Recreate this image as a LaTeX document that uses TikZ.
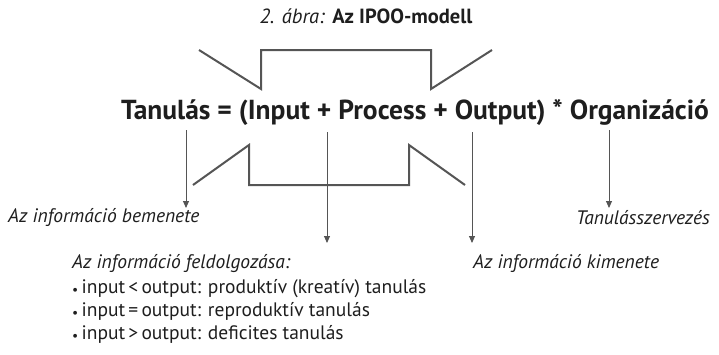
\documentclass[tikz,border=0pt]{standalone}
\usepackage{fontspec}
\setmainfont{PT Sans}
\usetikzlibrary{arrows.meta}
\definecolor{ink}{HTML}{1E1E1E}
\definecolor{linegray}{HTML}{555555}
\newcommand{\dotmark}{\raisebox{-1pt}{\scalebox{0.7}{\textbullet}}\,}
\begin{document}
\begin{tikzpicture}[x=1pt,y=-1pt,
  funnel/.style={draw=linegray,line width=2pt,line join=miter},
  pointer/.style={draw=linegray,line width=0.9pt,-{Triangle[length=7pt,width=6pt]}},
  label/.style={font=\fontsize{19.5}{22}\selectfont\itshape,text=ink,inner sep=0pt,anchor=west},
  item/.style={font=\fontsize{19.5}{22}\selectfont,text=ink,inner sep=0pt,anchor=west}]
\useasboundingbox (0,0) rectangle (719,354);

% caption
\node[font=\fontsize{20.5}{23}\selectfont,text=ink] (cap) at (366,16)
  {\textit{2. ábra:} \textbf{Az IPOO-modell}};

% upper and lower funnel outlines
\draw[funnel] (199,50) -- (261,89) -- (261,50) -- (431,50) -- (431,89) -- (492,50);
\draw[funnel] (193,185) -- (249,145) -- (249,185) -- (409,185) -- (409,145) -- (465,185);

% formula
\node[font=\fontsize{27.5}{30}\selectfont\bfseries,text=ink,inner sep=0pt] (eq) at (415,112)
  {Tanulás = (Input + Process + Output) * Organizáció};

% arrow ends
\coordinate (in0) at (186,130);   \coordinate (in1) at (186,208);
\coordinate (pr0) at (327,132);   \coordinate (pr1) at (327,243);
\coordinate (out0) at (472,132);  \coordinate (out1) at (472,243);
\coordinate (org0) at (609,130);  \coordinate (org1) at (609,208);

\draw[pointer] (in0) -- (in1);
\draw[pointer] (pr0) -- (pr1);
\draw[pointer] (out0) -- (out1);
\draw[pointer] (org0) -- (org1);

% labels
\node[label] (lin) at (8,218) {Az információ bemenete};
\node[label,anchor=east] (lorg) at (710,218) {Tanulásszervezés};
\node[label] (lpr) at (72,264) {Az információ feldolgozása:};
\node[label] (lout) at (473,264) {Az információ kimenete};

\node[item] (b1) at (72,289) {\dotmark input\,<\,output: produktív (kreatív) tanulás};
\node[item] (b2) at (72,311) {\dotmark input\,=\,output: reproduktív tanulás};
\node[item] (b3) at (72,334) {\dotmark input\,>\,output: deficites tanulás};
\end{tikzpicture}
\end{document}
